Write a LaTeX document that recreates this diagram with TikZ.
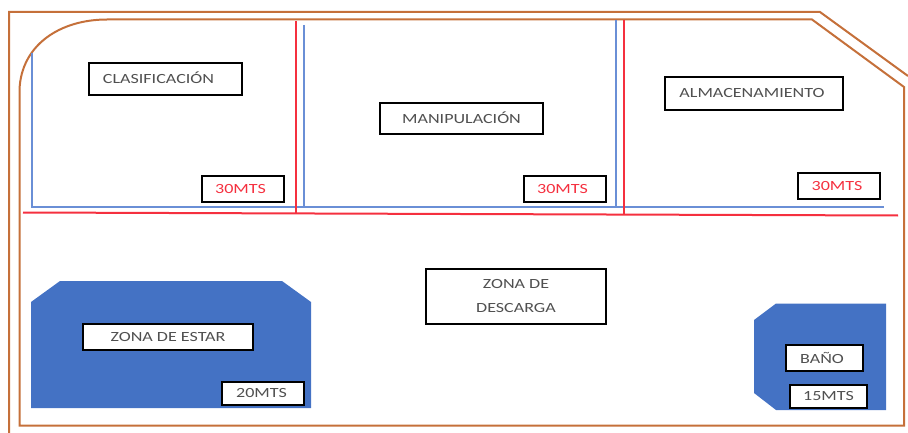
\documentclass[tikz,border=0pt]{standalone}
\usepackage{fontspec}
\setmainfont[FakeStretch=1.29]{Carlito}
\definecolor{wall}{HTML}{C5703A}
\definecolor{bluel}{HTML}{6A8FD6}
\definecolor{redl}{HTML}{F5303F}
\definecolor{zonefill}{HTML}{4472C4}
\definecolor{txt}{HTML}{505050}
\tikzset{
  wallline/.style={draw=wall,line width=2pt,line join=miter},
  blueline/.style={draw=bluel,line width=2pt},
  redline/.style={draw=redl,line width=2pt},
  zone/.style={fill=zonefill,draw=none},
  labelbox/.style={draw=black,line width=1.6pt,fill=white,anchor=north west,inner sep=0pt,outer sep=0pt,align=center,text=txt,font=\fontsize{14}{24}\selectfont},
  redbox/.style={labelbox,text=redl}
}
\newcommand{\lbl}[3]{\node[#1,minimum width=#2pt,minimum height=#3pt]}
\newcommand{\shifted}[3]{\hspace*{#1pt}\raisebox{#2pt}{#3}}
\begin{document}
\begin{tikzpicture}[x=1pt,y=-1pt]
\useasboundingbox (0,0) rectangle (908,433);
% outer wall
\coordinate (o1) at (9,433);
\coordinate (o2) at (9,12);
\coordinate (o3) at (820,12);
\coordinate (o4) at (908,76);
\draw[wallline] (o1) -- (o2) -- (o3) -- (o4);
% inner wall
\coordinate (i1) at (19.5,425.5);
\coordinate (i2) at (19.5,90);
\coordinate (i3) at (107,19.5);
\coordinate (i4) at (812,19.5);
\coordinate (i5) at (904,87);
\coordinate (i6) at (904,425.5);
\draw[wallline] (i1) -- (i2) .. controls (21,45) and (60,19.5) .. (i3) -- (i4) -- (i5) -- (i6) -- cycle;
% blue lines
\coordinate (b1) at (32,53);
\coordinate (b2) at (32,207);
\coordinate (b3) at (884,207);
\coordinate (b4) at (304,25);
\coordinate (b5) at (304,207);
\coordinate (b6) at (616,20);
\coordinate (b7) at (616,207);
\draw[blueline] (b1) -- (b2) -- (b3);
\draw[blueline] (b4) -- (b5);
\draw[blueline] (b6) -- (b7);
% red lines
\coordinate (r1) at (23,212.5);
\coordinate (r2) at (898,215.5);
\coordinate (r3) at (295.5,21);
\coordinate (r4) at (295.5,214);
\coordinate (r5) at (624,20);
\coordinate (r6) at (624,215);
\draw[redline] (r1) -- (r2);
\draw[redline] (r3) -- (r4);
\draw[redline] (r5) -- (r6);
% blue zones
\fill[zone] (31,302) -- (60,281) -- (282,281) -- (311,302) -- (311,408) -- (31,408) -- cycle;
\fill[zone] (754,320) -- (776,303.5) -- (886,303.5) -- (886,410) -- (776,410) -- (754,393) -- cycle;
% labels
\lbl{labelbox}{153}{32} (clas) at (89,63) {\shifted{-14}{2}{CLASIFICACIÓN}};
\lbl{redbox}{82}{26} (m1) at (202,176) {\shifted{-5}{0}{30MTS}};
\lbl{labelbox}{163}{31} (mani) at (380,103) {\shifted{0}{2}{MANIPULACIÓN}};
\lbl{redbox}{82}{26} (m2) at (524,176) {\shifted{-5}{0}{30MTS}};
\lbl{labelbox}{178}{33} (alma) at (665,77) {\shifted{-4}{2}{ALMACENAMIENTO}};
\lbl{redbox}{82}{26} (m3) at (798,173) {\shifted{-4}{0}{30MTS}};
\lbl{labelbox}{180}{55} (desc) at (426,269) {ZONA DE\\DESCARGA};
\lbl{labelbox}{170}{26} (esta) at (83,324) {\shifted{0}{0}{ZONA DE ESTAR}};
\lbl{labelbox}{82}{23} (m4) at (222,382) {\shifted{-3}{0}{20MTS}};
\lbl{labelbox}{77}{26} (bano) at (786,345) {\shifted{-5}{0}{BAÑO}};
\lbl{labelbox}{77}{23} (m5) at (790,385) {\shifted{0}{0}{15MTS}};
\end{tikzpicture}
\end{document}
